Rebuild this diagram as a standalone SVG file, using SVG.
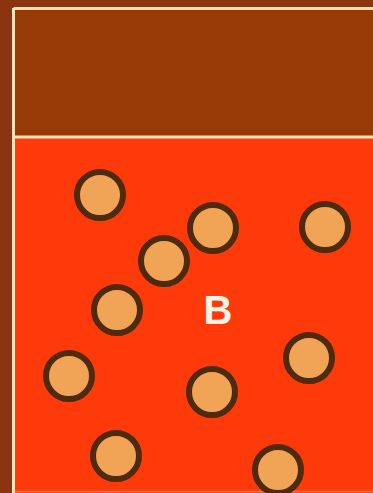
<svg xmlns="http://www.w3.org/2000/svg" width="373" height="493" viewBox="0 0 373 493">
<style>
.ball{fill:#F2A456;stroke:#4E2A0E;stroke-width:6}
.frame{stroke:#FBE3B8;stroke-width:3;fill:none}
.lbl{font-family:"Liberation Sans",Arial,sans-serif;font-weight:bold;font-size:40px;fill:#FFF3E6;text-anchor:middle}
</style>
<rect x="0" y="0" width="373" height="493" fill="#8A3510"/>
<rect x="13" y="8" width="360" height="130" fill="#983A06"/>
<rect x="13" y="138" width="360" height="355" fill="#FF3A0A"/>
<g id="frame">
<line class="frame" x1="13.5" y1="8.5" x2="373" y2="8.5"/>
<line class="frame" x1="13.5" y1="8" x2="13.5" y2="493"/>
<line class="frame" x1="13" y1="137" x2="373" y2="137"/>
<line x1="13" y1="491.5" x2="373" y2="491.5" stroke="#E9B08A" stroke-width="1.5" opacity="0.6"/>
</g>
<g id="particles">
<circle class="ball" cx="100" cy="195" r="23"/>
<circle class="ball" cx="213" cy="228" r="23"/>
<circle class="ball" cx="325" cy="227" r="23"/>
<circle class="ball" cx="164" cy="261" r="23"/>
<circle class="ball" cx="117" cy="310" r="23"/>
<circle class="ball" cx="309" cy="358" r="23"/>
<circle class="ball" cx="69" cy="376" r="23"/>
<circle class="ball" cx="212" cy="392" r="23"/>
<circle class="ball" cx="116" cy="456" r="23"/>
<circle class="ball" cx="278" cy="470" r="23"/>
</g>
<g id="label">
<text class="lbl" x="218" y="324">B</text>
</g>
</svg>
